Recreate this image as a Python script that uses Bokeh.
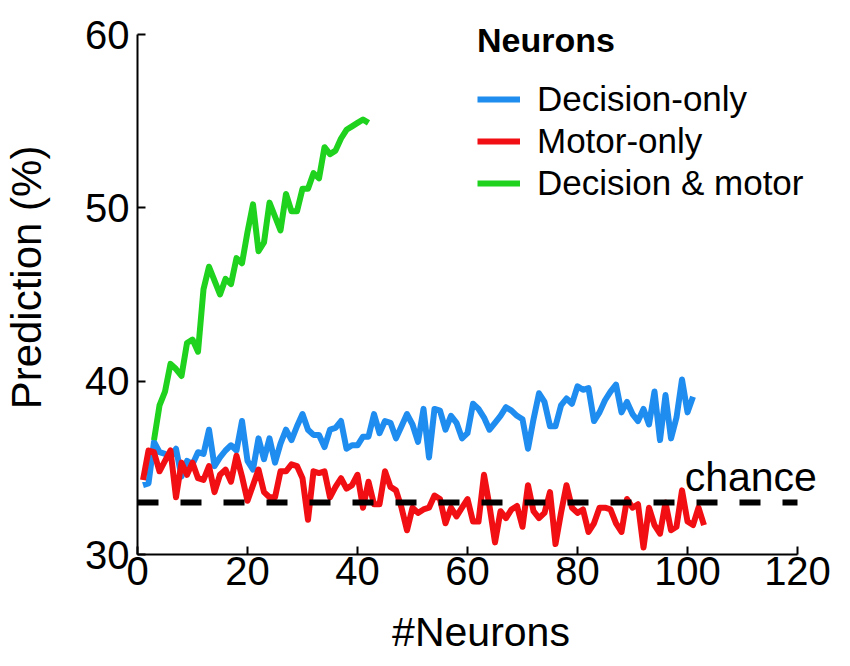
import math
from bokeh.plotting import figure
from bokeh.models import Range1d, Legend, LegendItem, Label, FixedTicker
from bokeh.embed import file_html
from bokeh.resources import INLINE

# ---------------- data ----------------
n_green = list(range(3, 43))
acc_green = [36.6, 38.6, 39.4, 41.0, 40.7, 40.3, 42.2, 42.4, 41.7, 45.3,
             46.6, 45.8, 45.0, 45.9, 45.6, 47.1, 46.8, 48.6, 50.2, 47.5,
             48.0, 50.3, 49.5, 48.7, 50.8, 49.8, 49.8, 51.1, 51.1, 52.0,
             51.7, 53.5, 53.1, 53.3, 54.0, 54.5, 54.7, 54.9, 55.1, 54.9]

n_blue = list(range(1, 102))
acc_blue = [34.0, 34.1, 36.5, 35.9, 35.8, 35.6, 36.1, 34.5, 35.4, 35.2,
            35.9, 35.8, 37.2, 35.1, 35.6, 36.0, 36.3, 36.0, 37.7, 35.4,
            34.9, 36.7, 35.5, 36.7, 35.3, 36.4, 37.2, 36.6, 37.4, 38.1,
            37.2, 36.9, 36.9, 36.2, 37.2, 37.3, 37.7, 36.1, 36.3, 36.3,
            36.8, 36.8, 38.1, 37.0, 37.7, 37.6, 36.7, 37.4, 38.1, 37.5,
            36.5, 38.4, 35.6, 38.4, 38.3, 37.2, 38.0, 37.6, 36.7, 37.0,
            38.7, 38.4, 37.9, 37.2, 37.6, 38.0, 38.5, 38.3, 38.0, 37.8,
            36.1, 37.8, 39.3, 38.8, 37.4, 37.4, 38.6, 39.0, 38.7, 39.7,
            39.5, 39.6, 37.7, 38.2, 38.9, 39.4, 39.8, 38.2, 38.8, 38.1,
            37.7, 38.4, 37.5, 39.4, 36.6, 39.2, 36.7, 37.9, 40.1, 38.2,
            39.1]

n_red = list(range(1, 104))
acc_red = [34.3, 36.0, 35.9, 34.8, 35.4, 36.0, 33.3, 35.3, 34.6, 35.3,
           34.4, 34.3, 35.1, 33.6, 34.6, 34.9, 34.2, 35.7, 34.5, 33.1,
           34.0, 34.9, 33.6, 33.3, 33.3, 34.8, 34.8, 35.2, 35.1, 34.4,
           32.0, 34.8, 34.7, 34.8, 33.3, 33.9, 34.4, 33.8, 34.0, 34.6,
           32.7, 34.2, 32.9, 32.9, 34.8, 33.9, 33.7, 32.7, 31.4, 32.7,
           32.4, 32.6, 32.7, 33.4, 33.2, 31.8, 32.7, 32.2, 32.7, 33.2,
           31.9, 31.9, 34.6, 32.8, 30.7, 32.5, 32.1, 32.6, 32.8, 31.6,
           34.0, 32.5, 32.1, 32.4, 33.6, 30.6, 32.4, 34.0, 32.7, 32.4,
           32.6, 31.3, 31.8, 32.7, 32.7, 32.6, 31.8, 31.3, 33.2, 32.7,
           32.9, 30.4, 32.7, 31.7, 31.2, 33.0, 31.4, 31.6, 33.7, 31.9,
           31.7, 32.7, 31.7]

chance_level = 33.0
chance_x = [0, 120]
x_ticks = [0, 20, 40, 60, 80, 100, 120]
y_ticks = [30, 40, 50, 60]
x_bounds = (0, 120)
y_bounds = (30, 60)
series_labels = ["Decision-only", "Motor-only", "Decision & motor"]

BLUE = "#1f8cf0"
RED = "#f20f14"
GREEN = "#1ed21e"
FONT = "Liberation Sans"

# frame is a bit larger than the axes so the legend title and "chance" fit
p = figure(frame_width=687, frame_height=554,
           min_border_left=137, min_border_right=10,
           min_border_top=0, min_border_bottom=104,
           x_range=Range1d(0, 687 / 5.5), y_range=Range1d(30, 30 + 554 / (520 / 30)),
           output_backend="svg", toolbar_location=None)

p.outline_line_color = None
p.xgrid.visible = False
p.ygrid.visible = False
p.background_fill_color = "white"
p.border_fill_color = "white"

for ax in (p.xaxis[0], p.yaxis[0]):
    ax.axis_line_width = 2
    ax.axis_line_color = "black"
    ax.major_tick_line_width = 2
    ax.major_tick_line_color = "black"
    ax.major_tick_in = 8
    ax.major_tick_out = 0
    ax.minor_tick_line_color = None
    ax.major_label_text_font = FONT
    ax.major_label_text_font_size = "40px"
    ax.major_label_text_color = "black"
    ax.axis_label_text_font = FONT
    ax.axis_label_text_font_style = "normal"
    ax.axis_label_text_color = "black"

p.xaxis[0].ticker = FixedTicker(ticks=x_ticks)
p.yaxis[0].ticker = FixedTicker(ticks=y_ticks)
p.xaxis[0].bounds = x_bounds
p.yaxis[0].bounds = y_bounds
p.xaxis[0].major_label_standoff = 2
p.yaxis[0].major_label_standoff = 8
p.xaxis[0].axis_label = "#Neurons"
p.xaxis[0].axis_label_text_font_size = "41px"
p.xaxis[0].axis_label_standoff = 21
p.yaxis[0].axis_label = "Prediction (%)"
p.yaxis[0].axis_label_text_font_size = "42px"
p.yaxis[0].axis_label_standoff = 32

r_blue = p.line(n_blue, acc_blue, line_color=BLUE, line_width=6, line_join="round")
r_red = p.line(n_red, acc_red, line_color=RED, line_width=6, line_join="round")
r_green = p.line(n_green, acc_green, line_color=GREEN, line_width=6, line_join="round")
p.line(chance_x, [chance_level, chance_level], line_color="black", line_width=6,
       line_dash="21 22")

legend = Legend(items=[LegendItem(label=series_labels[0], renderers=[r_blue]),
                       LegendItem(label=series_labels[1], renderers=[r_red]),
                       LegendItem(label=series_labels[2], renderers=[r_green])],
                location=(340, 351),
                title="Neurons", title_text_font=FONT, title_text_font_size="34px",
                title_text_font_style="bold", title_text_color="black",
                title_standoff=19,
                label_text_font=FONT, label_text_font_size="35px",
                label_text_color="black",
                glyph_width=43, glyph_height=38, label_height=38,
                label_standoff=17, spacing=2, padding=0, margin=0,
                border_line_color=None, background_fill_alpha=0)
p.add_layout(legend)

p.add_layout(Label(x=111.5, y=34.5, text="chance", text_align="center",
                   text_baseline="alphabetic", text_font=FONT,
                   text_font_size="41px", text_color="black"))

open("out.html", "w").write(file_html(p, INLINE))
